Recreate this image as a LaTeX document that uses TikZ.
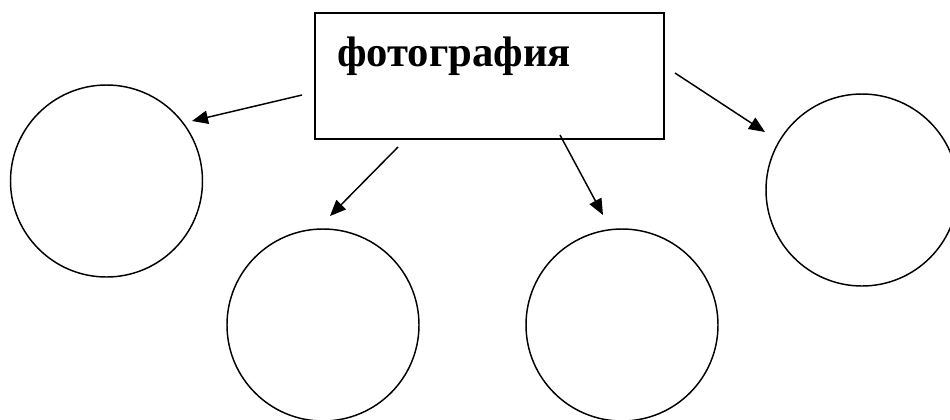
\documentclass[tikz,border=0pt]{standalone}
\usepackage{fontspec}
\setmainfont{Liberation Serif}
\usetikzlibrary{arrows.meta}
\begin{document}
\begin{tikzpicture}[x=0.75pt,y=-0.75pt,
  ring/.style={draw,circle,line width=1.1pt,minimum size=144pt,inner sep=0pt},
  frame/.style={draw,rectangle,line width=1.1pt,minimum width=261.75pt,minimum height=94.5pt,inner sep=0pt},
  arr/.style={line width=1.1pt,-{Triangle[length=12pt,width=10pt]}}]
\useasboundingbox (0,0) rectangle (950,419);
\node[frame] (box) at (489.5,76) {};
\node[anchor=base west,inner sep=0pt,font=\fontsize{32}{36}\selectfont\bfseries] (title) at (337,66) {фотография};
\node[ring] (c1) at (106.5,181) {};
\node[ring] (c2) at (323,325) {};
\node[ring] (c3) at (622,325) {};
\node[ring] (c4) at (862,190) {};
\coordinate (s1) at (302,95);  \coordinate (t1) at (192,121);
\coordinate (s2) at (398,147); \coordinate (t2) at (330,216);
\coordinate (s3) at (560,135); \coordinate (t3) at (603,215);
\coordinate (s4) at (675,73);  \coordinate (t4) at (765,132);
\draw[arr] (s1) -- (t1);
\draw[arr] (s2) -- (t2);
\draw[arr] (s3) -- (t3);
\draw[arr] (s4) -- (t4);
\end{tikzpicture}
\end{document}
